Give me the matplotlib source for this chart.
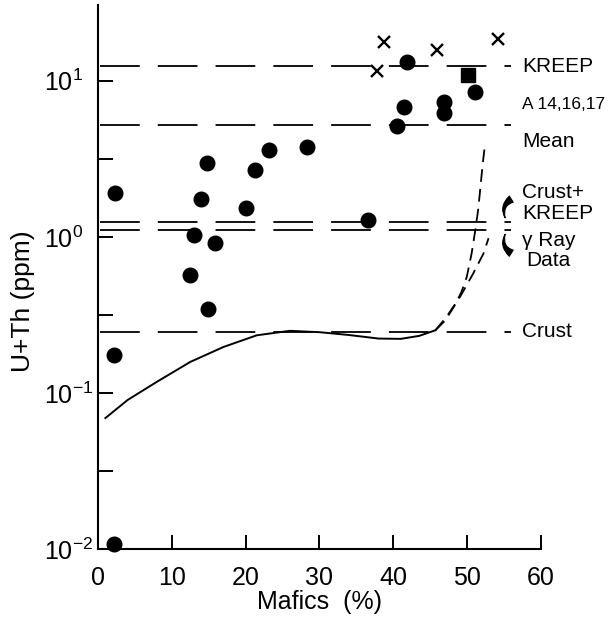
import matplotlib
matplotlib.use("Agg")
import matplotlib.pyplot as plt
from matplotlib.ticker import LogLocator, FixedLocator, NullFormatter

# Sample points (Mafics %, U+Th ppm)
dots_x = [2.3, 2.2, 2.1, 12.5, 13.05, 13.9, 14.7, 14.9, 15.9, 20.05, 21.2, 23.2,
          28.3, 36.6, 40.5, 41.5, 41.9, 46.9, 46.9, 51.0]
dots_y = [1.90, 0.176, 0.0108, 0.568, 1.025, 1.74, 2.98, 0.347, 0.907, 1.54, 2.70, 3.59,
          3.78, 1.28, 5.13, 6.75, 13.2, 7.33, 6.18, 8.43]
cross_x = [37.8, 38.7, 45.9, 54.2]
cross_y = [11.6, 17.8, 15.7, 18.4]
square_x = [50.1]
square_y = [10.9]

# Reference levels (ppm)
level_kreep = 12.4
level_mean = 5.2
level_crust_kreep = 1.25
level_gamma = 1.10
level_crust = 0.246

# Model curve (solid) and its two dashed continuations
model_x = [1.0, 4.0, 8.0, 12.5, 17.0, 21.5, 26.0, 30.0, 34.0, 38.0, 41.0, 43.5, 45.7]
model_y = [0.069, 0.090, 0.118, 0.158, 0.197, 0.234, 0.250, 0.245, 0.235, 0.223,
           0.222, 0.232, 0.252]
branch_a_x = [45.7, 47.0, 48.2, 49.2, 49.95, 50.6, 51.1, 51.5, 51.8, 52.1, 52.4]
branch_a_y = [0.252, 0.290, 0.356, 0.440, 0.554, 0.780, 1.10, 1.50, 2.09, 2.90, 3.87]
branch_b_x = [45.7, 47.2, 49.0, 50.8, 52.2, 52.9]
branch_b_y = [0.252, 0.307, 0.410, 0.580, 0.780, 0.980]

x_ticks = [0, 10, 20, 30, 40, 50, 60]

plt.rcParams['font.family'] = ['Liberation Sans', 'DejaVu Sans']
plt.rcParams['mathtext.fontset'] = 'custom'
plt.rcParams['mathtext.rm'] = 'Liberation Sans'
plt.rcParams['mathtext.it'] = 'Liberation Sans:italic'
plt.rcParams['mathtext.bf'] = 'Liberation Sans:bold'

fig = plt.figure(figsize=(6.11, 6.23), dpi=100)
ax = fig.add_axes([0.1604, 0.1188, 0.7250, 0.8732])
ax.set_yscale('log')
ax.set_xlim(0, 60)
ax.set_ylim(1e-2, 30.6)

dash = (0, (22, 10))
hl_kw = dict(color='black', lw=1.3, linestyle=dash, clip_on=False)
for lvl in [level_kreep, level_mean, level_crust_kreep, level_gamma, level_crust]:
    ax.plot([0.3, 56.0], [lvl, lvl], **hl_kw)

ax.plot(model_x, model_y, color='black', lw=1.4)
ax.plot(branch_a_x, branch_a_y, color='black', lw=1.3, linestyle=(0, (7, 4)))
ax.plot(branch_b_x, branch_b_y, color='black', lw=1.3, linestyle=(0, (7, 4)))

ax.plot(dots_x, dots_y, 'o', color='black', ms=10.5, clip_on=False, zorder=5)
ax.plot(cross_x, cross_y, 'x', color='black', ms=9, mew=1.7, clip_on=False, zorder=5)
ax.plot(square_x, square_y, 's', color='black', ms=10.5, clip_on=False, zorder=5)

# Axes styling
for s in ['top', 'right']:
    ax.spines[s].set_visible(False)
for s in ['left', 'bottom']:
    ax.spines[s].set_linewidth(1.5)

ax.xaxis.set_major_locator(FixedLocator(x_ticks))
ax.yaxis.set_major_locator(LogLocator(base=10, numticks=10))
ax.yaxis.set_minor_locator(FixedLocator([10 ** -1.5, 10 ** -0.5, 10 ** 0.5]))
ax.yaxis.set_minor_formatter(NullFormatter())
ax.tick_params(axis='both', which='both', direction='in', width=1.4, labelsize=18)
ax.tick_params(axis='y', which='both', length=11, pad=39)
ax.tick_params(axis='x', which='major', length=10, pad=12)
for lbl in ax.get_yticklabels():
    lbl.set_horizontalalignment('left')

ax.set_xlabel('Mafics  (%)', fontsize=18, labelpad=0)
ax.set_ylabel('U+Th (ppm)', fontsize=19)
ax.yaxis.set_label_coords(-0.142, 0.455)

# Level labels to the right of the plot
tk = dict(fontsize=15, va='center', ha='left', clip_on=False)
xt = 57.45
ax.text(xt, level_kreep, 'KREEP', **tk)
ax.text(xt, 7.1, 'A 14,16,17', fontsize=12.5, va='center', ha='left', clip_on=False)
ax.text(xt, 4.1, 'Mean', **tk)
ax.text(xt, 1.91, 'Crust+', **tk)
ax.text(xt, 1.42, 'KREEP', **tk)
ax.text(xt, 0.95, '\u03b3 Ray', **tk)
ax.text(xt + 0.6, 0.71, 'Data', **tk)
ax.text(xt, level_crust, 'Crust', **tk)

# Curled pointers from the two stacked labels to their levels
curl = dict(arrowstyle='wedge,tail_width=0.35,shrink_factor=0.4', color='black',
            mutation_scale=15, lw=0.8)
ax.annotate('', xy=(55.3, level_crust_kreep * 1.02), xytext=(56.3, 1.78),
            arrowprops=dict(connectionstyle='arc3,rad=0.5', **curl),
            annotation_clip=False)
ax.annotate('', xy=(55.3, level_gamma * 0.98), xytext=(56.3, 0.77),
            arrowprops=dict(connectionstyle='arc3,rad=-0.5', **curl),
            annotation_clip=False)

fig.savefig('out.png', dpi=100)
